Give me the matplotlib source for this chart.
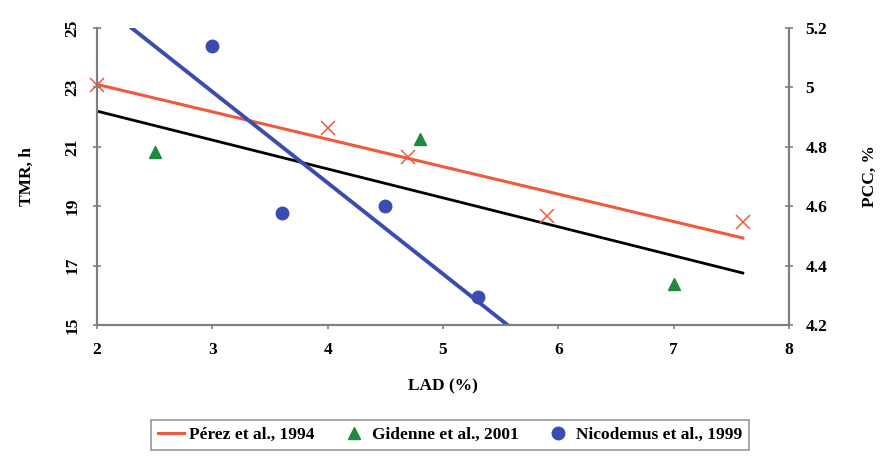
import matplotlib.pyplot as plt

plt.rcParams["font.family"] = ["Liberation Serif", "DejaVu Serif"]
plt.rcParams["font.weight"] = "bold"

# Pérez et al., 1994 (crosses) and its trend line
perez_lad = [2.0, 4.0, 4.7, 5.9, 7.6]
perez_tmr = [23.08, 21.63, 20.66, 18.67, 18.47]
perez_fit_lad = [2.0, 7.6]
perez_fit_tmr = [23.1, 17.93]

# Gidenne et al., 2001 (triangles) and black trend line
gidenne_lad = [2.5, 4.8, 7.0]
gidenne_tmr = [20.82, 21.26, 16.38]
black_fit_lad = [2.0, 7.6]
black_fit_tmr = [22.2, 16.75]

# Nicodemus et al., 1999 (circles) and its trend line
nicodemus_lad = [3.0, 3.6, 4.5, 5.3]
nicodemus_tmr = [24.39, 18.77, 19.0, 15.94]
nicodemus_fit_lad = [2.3, 5.56]
nicodemus_fit_tmr = [25.0, 15.0]

left_ticks = [15, 17, 19, 21, 23, 25]
right_ticks = [4.2, 4.4, 4.6, 4.8, 5.0, 5.2]
right_labels = ["4.2", "4.4", "4.6", "4.8", "5", "5.2"]
x_ticks = [2, 3, 4, 5, 6, 7, 8]

red = "#ef5a3c"
blue = "#3a4cb0"
green = "#1f8a3c"
grey = "#7f7f7f"
fs = 12.5

fig = plt.figure(figsize=(8.87, 4.66), dpi=100)
ax = fig.add_axes([0.1094, 0.3026, 0.78, 0.6374])

ax.plot(black_fit_lad, black_fit_tmr, color="black", lw=2)
ax.plot(perez_fit_lad, perez_fit_tmr, color=red, lw=2.2,
        label="Pérez et al., 1994")
ax.plot(nicodemus_fit_lad, nicodemus_fit_tmr, color=blue, lw=2.8)
ax.plot(perez_lad, perez_tmr, ls="none", marker="x", ms=10,
        mew=1.1, color=red, clip_on=False)
ax.plot(gidenne_lad, gidenne_tmr, ls="none", marker="^", ms=8,
        color=green, label="Gidenne et al., 2001")
ax.plot(nicodemus_lad, nicodemus_tmr, ls="none", marker="o", ms=9,
        color=blue, label="Nicodemus et al., 1999")

ax.set_xlim(2, 8)
ax.set_ylim(15, 25)
ax.set_xticks(x_ticks)
ax.set_yticks(left_ticks)
ax.set_yticklabels([str(t) for t in left_ticks], rotation=90,
                   va="center")
ax.set_xlabel("LAD (%)", fontsize=fs, fontweight="bold", labelpad=15)
ax.set_ylabel("TMR, h", fontsize=fs, fontweight="bold", labelpad=21)

ax2 = ax.twinx()
ax2.set_ylim(4.2, 5.2)
ax2.set_yticks(right_ticks)
ax2.set_yticklabels(right_labels)
ax2.set_ylabel("PCC, %", fontsize=fs, fontweight="bold", labelpad=25)

for a in (ax, ax2):
    a.spines["top"].set_visible(False)
    for side in ("left", "right", "bottom"):
        a.spines[side].set_color(grey)
        a.spines[side].set_linewidth(1.5)
    a.tick_params(direction="inout", length=6, width=1.2, color=grey,
                  labelsize=fs)
ax.tick_params(axis="x", direction="out", length=3, pad=9)
ax.tick_params(axis="y", pad=9)
ax2.tick_params(axis="y", pad=9)

leg = ax.legend(loc="upper center", bbox_to_anchor=(0.51, -0.32),
                borderaxespad=0, ncol=3, frameon=True, fancybox=False,
                fontsize=fs, handlelength=1.5, handletextpad=0.3,
                columnspacing=1.5, borderpad=0.4)
leg.get_frame().set_edgecolor(grey)
leg.get_frame().set_linewidth(1.2)

fig.savefig("out.png", dpi=100)
